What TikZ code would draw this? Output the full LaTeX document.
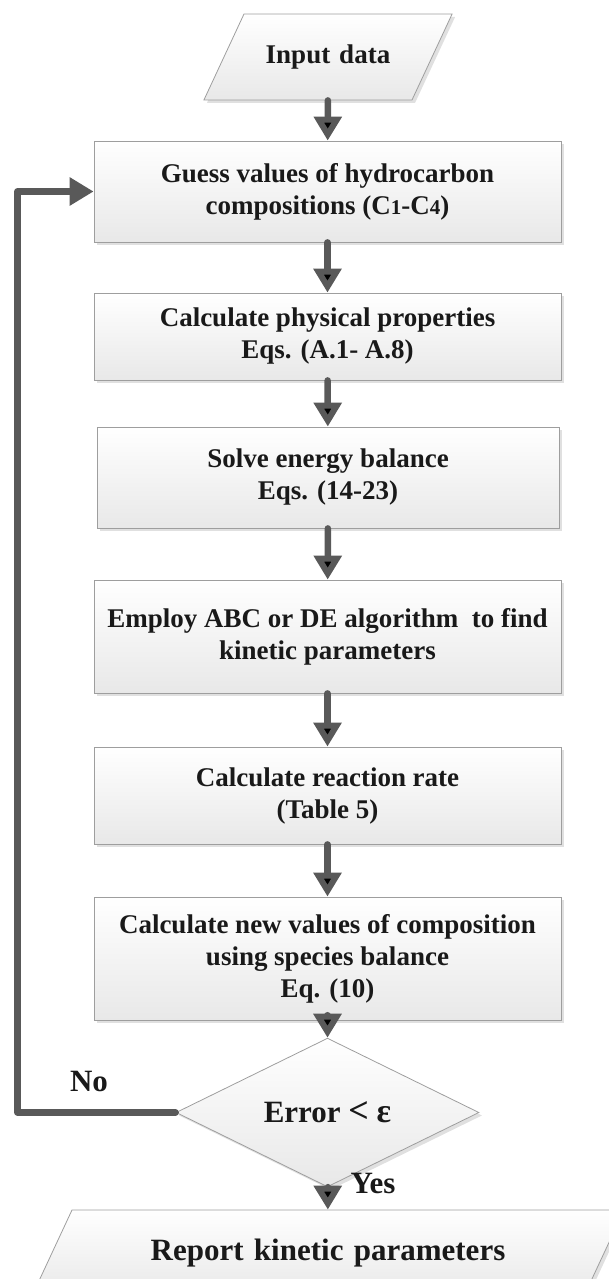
\documentclass[tikz,border=0pt]{standalone}
\usepackage{fontspec}
\setmainfont{Liberation Serif}
\usetikzlibrary{arrows.meta,shapes.geometric,shadows}

\newcommand{\sdig}[1]{{\fontsize{21}{32}\selectfont #1}}

\tikzset{
  look/.style={draw=black!38, line width=0.8pt,
    top color=white, bottom color=black!9,
    drop shadow={shadow xshift=3pt, shadow yshift=-3pt, fill=black!12, opacity=1},
    align=center, text=black!90},
  box/.style={look, rectangle, inner sep=0pt, minimum width=467pt,
    font=\fontsize{27}{32}\selectfont\bfseries},
  io/.style={look, shape=trapezium, trapezium left angle=65,
    trapezium right angle=115, inner xsep=0pt},
  decide/.style={look, shape=diamond, inner sep=0pt, minimum width=303pt,
    minimum height=101pt, font=\fontsize{31}{36}\selectfont\bfseries},
  lab/.style={inner sep=0pt, text=black!90, font=\fontsize{31}{36}\selectfont\bfseries},
  flow/.style={draw=black!65, line width=6.5pt, line cap=round, line join=round,
    -{Triangle[width=27pt,length=24pt]}}
}

\begin{document}
\begin{tikzpicture}[x=1pt,y=-1pt]
	\useasboundingbox (0,0) rectangle (608,1279);
	%
	%  STEPS
	%
	\node[io, text width=168pt, text height=20pt, text depth=6pt, inner ysep=30pt,
	  font=\fontsize{27}{32}\selectfont\bfseries] (input) at (328,57) {Input data};
	\node[box, minimum height=101pt] (guess) at (327.5,191.5) {Guess values of hydrocarbon\\compositions (C\sdig{1}-C\sdig{4})};
	\node[box, minimum height=87pt] (phys) at (327.5,336.5) {Calculate physical properties\\Eqs. (A.1- A.8)};
	\node[box, minimum width=462pt, minimum height=101pt] (energy) at (328,477.5) {Solve energy balance\\Eqs. (14-23)};
	\node[box, minimum height=113pt] (algo) at (327.5,636.5) {Employ ABC or DE algorithm\ \ to find\\kinetic parameters};
	\node[box, minimum height=97pt] (rate) at (327.5,795.5) {Calculate reaction rate\\(Table 5)};
	\node[box, minimum height=123pt] (species) at (327.5,958.5) {Calculate new values of composition\\using species balance\\Eq. (10)};
	\node[decide] (check) at (327.5,1112.5) {Error {\fontsize{36}{36}\selectfont<} {\fontsize{34}{36}\selectfont ε}};
	\node[io, text width=512pt, text height=22pt, text depth=7pt, inner ysep=28.5pt,
	  font=\fontsize{31}{36}\selectfont\bfseries] (report) at (328,1253) {Report kinetic parameters};
	%
	%  LABELS
	%
	\node[lab] (no) at (89,1081) {No};
	\node[lab] (yes) at (373,1183) {Yes};
	\coordinate (loop) at (17.5,1112.5);
	%
	%  CONNECTORS
	%
	\path[flow]
	(input) edge (guess)
	(guess) edge (phys)
	(phys) edge (energy)
	(energy) edge (algo)
	(algo) edge (rate)
	(rate) edge (species)
	(species) edge (check)
	(check) edge (report);
	\draw[flow] (check.west) -- (loop) |- (guess.west);
\end{tikzpicture}
\end{document}
